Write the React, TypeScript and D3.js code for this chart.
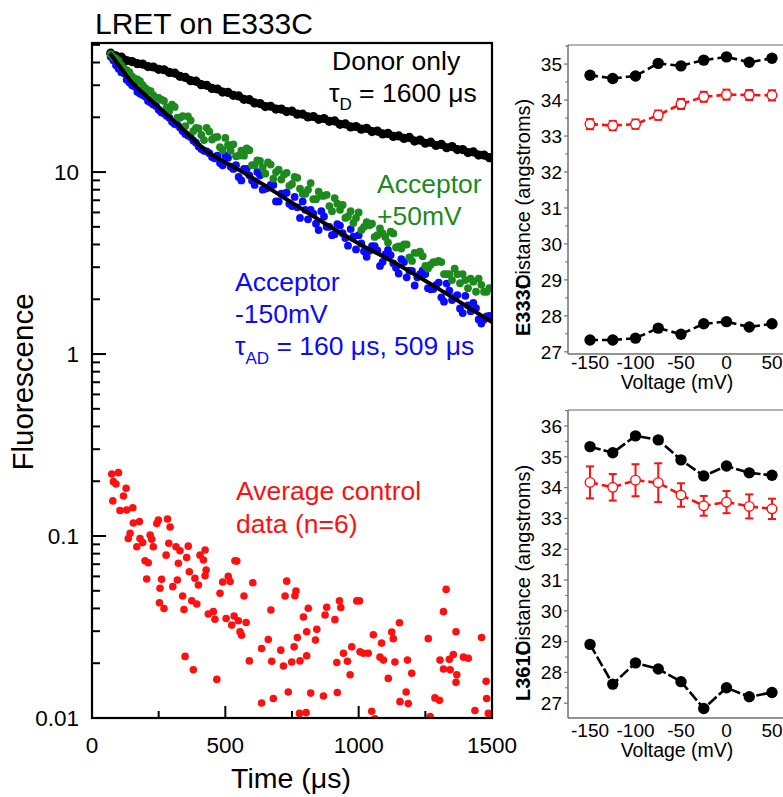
import React from 'react';
import * as d3 from 'd3';

// ---------- Main panel data (time in µs, fluorescence) ----------
const sampleTimes = d3.range(70, 1500, 20); // acquisition grid A (72 samples)
const sampleTimesMid = d3.range(80, 1490, 20); // acquisition grid B (71 samples)

const donorOnly = [
  45.0, 43.5, 42.9, 41.0, 40.5, 39.4, 39.2, 38.0, 37.8, 36.7,
  36.5, 35.3, 35.0, 33.6, 33.1, 31.8, 31.6, 30.2, 30.0, 28.8,
  28.6, 27.5, 27.4, 26.4, 26.2, 25.1, 25.0, 24.0, 23.8, 22.9,
  23.0, 22.2, 22.2, 21.5, 21.6, 20.8, 20.8, 20.1, 20.2, 19.5,
  19.7, 19.0, 19.1, 18.3, 18.4, 17.7, 17.8, 17.2, 17.4, 16.7,
  16.8, 16.2, 16.3, 15.7, 15.8, 15.3, 15.5, 14.8, 15.0, 14.4,
  14.6, 14.0, 14.2, 13.6, 13.8, 13.3, 13.3, 12.8, 12.9, 12.4,
  12.4, 12.0,
];

const acceptorMinus150 = [
  43.0, 38.6, 35.4, 32.2, 30.0, 27.6, 26.5, 24.6, 23.5, 22.0,
  21.0, 19.9, 18.4, 17.6, 16.2, 15.6, 14.5, 13.4, 13.0, 12.1,
  12.3, 10.9, 12.0, 10.4, 9.4, 10.4, 9.6, 8.5, 9.6, 8.1,
  8.5, 6.9, 7.6, 7.7, 6.5, 6.4, 6.9, 5.5, 5.9, 4.8,
  5.7, 5.0, 4.56, 5.08, 4.34, 4.86, 3.76, 4.05, 3.42, 3.92,
  3.71, 3.21, 3.73, 3.15, 2.77, 3.2, 2.87, 2.38, 2.75, 2.75,
  2.27, 2.39, 2.05, 2.44, 1.98, 2.11, 1.68, 1.85, 1.91, 1.55,
  1.55, 1.62,
];
const acceptorMinus150Mid = [
  41.2, 37.0, 34.9, 31.2, 29.5, 27.0, 26.0, 24.1, 23.1, 21.3,
  20.4, 18.9, 18.2, 16.8, 15.9, 14.9, 13.8, 13.1, 12.7, 11.9,
  11.2, 12.3, 10.7, 10.9, 9.0, 10.4, 9.0, 10.0, 8.0, 8.2,
  8.5, 6.9, 7.6, 6.7, 7.3, 5.6, 6.2, 6.2, 5.2, 6.1,
  5.0, 4.5, 5.18, 4.61, 3.94, 4.41, 4.5, 3.67, 3.69, 3.92,
  3.05, 3.53, 3.5, 2.98, 3.32, 2.64, 2.86, 2.64, 2.88, 2.3,
  2.28, 2.47, 1.94, 2.23, 2.05, 1.78, 2.09, 1.72, 1.79, 1.47,
  1.61,
];

const acceptorPlus50 = [
  44.5, 42.0, 38.6, 36.3, 33.6, 32.3, 30.0, 28.2, 26.4, 25.6,
  24.6, 21.7, 22.8, 19.9, 17.9, 19.2, 17.5, 16.0, 17.5, 15.1,
  15.6, 13.2, 14.1, 14.2, 12.3, 12.3, 13.2, 10.9, 11.5, 9.8,
  11.0, 10.0, 9.1, 9.9, 8.6, 9.3, 7.6, 8.0, 7.1, 7.8,
  7.4, 6.5, 7.2, 6.2, 5.6, 6.1, 5.6, 4.8, 5.3, 5.2,
  4.5, 4.6, 4.1, 4.6, 3.9, 4.0, 3.4, 3.6, 3.65, 3.05,
  3.1, 3.2, 3.2, 2.75, 2.55, 2.75, 2.75, 2.3, 2.5, 2.6,
  2.2, 2.3,
];
const acceptorPlus50Mid = [
  43.0, 40.8, 37.0, 35.4, 32.6, 31.6, 28.9, 27.8, 25.5, 25.0,
  22.7, 23.5, 19.9, 20.3, 20.2, 16.8, 17.4, 15.0, 16.7, 15.5,
  13.7, 15.4, 13.1, 12.2, 13.1, 13.5, 10.9, 11.6, 10.6, 11.3,
  9.2, 10.3, 9.7, 8.4, 9.4, 8.1, 7.6, 8.7, 7.1, 7.4,
  7.5, 6.1, 6.7, 6.6, 5.7, 5.25, 6.0, 5.0, 5.1, 4.4,
  4.9, 4.4, 4.7, 3.85, 3.8, 4.0, 3.25, 3.6, 3.45, 2.95,
  3.2, 3.25, 2.75, 2.75, 2.95, 2.45, 2.55, 2.6, 2.2, 2.4,
  2.2,
];

const fitTimes = [67, 100, 150, 200, 250, 304, 350, 424, 500, 550, 650, 716, 800, 866, 1000, 1118, 1200, 1300, 1400, 1500];
const fitValues = [45, 38.8, 31.0, 26.5, 22.7, 19.3, 16.7, 13.2, 11.3, 10.3, 8.4, 7.3, 6.1, 5.3, 4.05, 3.28, 2.8, 2.28, 1.85, 1.5];

const controlTimes = [
  74, 99, 80, 90, 118, 128, 78, 105, 130, 153, 155, 178, 143, 136, 180, 168, 190, 218, 224, 230,
  243, 249, 283, 293, 288, 315, 330, 361, 278, 355, 324, 199, 211, 205, 261, 255, 320, 303, 365, 386,
  399, 405, 424, 418, 428, 424, 253, 270, 340, 345, 374, 393, 436, 455, 461, 480, 490, 511, 518, 503,
  524, 533, 549, 578, 555, 561, 536, 543, 570, 603, 349, 380, 468, 590, 636, 661, 674, 671, 708, 718,
  730, 724, 761, 765, 793, 811, 805, 843, 838, 758, 770, 780, 805, 749, 880, 874, 911, 928, 933, 918,
  958, 974, 943, 968, 993, 1003, 1005, 1018, 1036, 1055, 1086, 1080, 1093, 1111, 1124, 1130, 1136, 1183, 1199, 1153,
  1178, 1155, 1186, 1261, 1305, 1318, 1340, 1355, 1343, 1368, 1365, 1328, 1318, 1365, 1393, 1411, 1461, 1478, 1480, 1486,
  1436, 1286, 1303, 1268, 1049, 1061, 736, 680, 636, 820, 868, 920, 778, 803,
];
const controlValues = [
  0.219, 0.223, 0.199, 0.193, 0.166, 0.183, 0.156, 0.138, 0.139, 0.143, 0.118, 0.120, 0.1035, 0.097, 0.097, 0.0873, 0.092, 0.1013, 0.0959, 0.0873,
  0.117, 0.1224, 0.124, 0.112, 0.0913, 0.0873, 0.083, 0.088, 0.0785, 0.0761, 0.0708, 0.0731, 0.0713, 0.0581, 0.0578, 0.0516, 0.0573, 0.0527, 0.0636, 0.0586,
  0.0538, 0.0785, 0.0838, 0.0738, 0.065, 0.0605, 0.043, 0.040, 0.0468, 0.0395, 0.0441, 0.0423, 0.0373, 0.0384, 0.0349, 0.0484, 0.0559, 0.060, 0.0562, 0.0352,
  0.0324, 0.0363, 0.0342, 0.0335, 0.0298, 0.0285, 0.0731, 0.0728, 0.0468, 0.0554, 0.0218, 0.0184, 0.0163, 0.0206, 0.0241, 0.027, 0.0205, 0.0392, 0.0236, 0.0193,
  0.0565, 0.0468, 0.047, 0.0499, 0.0359, 0.0401, 0.0298, 0.0307, 0.0268, 0.0246, 0.0277, 0.0206, 0.022, 0.0203, 0.0406, 0.0368, 0.0347, 0.0441, 0.0405, 0.0202,
  0.0205, 0.0246, 0.0227, 0.0173, 0.044, 0.044, 0.0231, 0.0227, 0.0227, 0.0287, 0.0258, 0.0216, 0.0208, 0.0165, 0.0297, 0.0273, 0.0203, 0.0208, 0.0176, 0.0334,
  0.0139, 0.0123, 0.0120, 0.0273, 0.0208, 0.0186, 0.021, 0.0223, 0.0184, 0.0173, 0.0157, 0.0509, 0.0384, 0.0298, 0.0216, 0.0213, 0.0277, 0.0159, 0.0128, 0.0106,
  0.0110, 0.0129, 0.0125, 0.0102, 0.0109, 0.0099, 0.0139, 0.0128, 0.0121, 0.0137, 0.0132, 0.0138, 0.0106, 0.0107,
];

const mainXTicks = [0, 500, 1000, 1500];
const mainXMinorTicks = [250, 750, 1250];
const mainYTicks = [0.01, 0.1, 1, 10];
const mainYTickLabels = ['0.01', '0.1', '1', '10'];

// ---------- Right panels data (voltage in mV, distance in Å) ----------
const voltages = [-150, -125, -100, -75, -50, -25, 0, 25, 50];
const voltageTicks = [-150, -100, -50, 0, 50];

const e333Upper = [34.69, 34.60, 34.67, 35.02, 34.95, 35.11, 35.20, 35.05, 35.16];
const e333Mean = [33.33, 33.29, 33.33, 33.58, 33.89, 34.09, 34.15, 34.14, 34.13];
const e333MeanErr = [0.14, 0.13, 0.13, 0.13, 0.14, 0.14, 0.14, 0.14, 0.14];
const e333Lower = [27.33, 27.33, 27.38, 27.66, 27.49, 27.78, 27.84, 27.69, 27.78];
const e333YTicks = [27, 28, 29, 30, 31, 32, 33, 34, 35];

const l361Upper = [35.33, 35.13, 35.68, 35.55, 34.90, 34.38, 34.70, 34.48, 34.40];
const l361Mean = [34.17, 34.01, 34.24, 34.16, 33.76, 33.41, 33.53, 33.39, 33.31];
const l361MeanErr = [0.52, 0.43, 0.52, 0.63, 0.38, 0.32, 0.36, 0.39, 0.33];
const l361Lower = [28.91, 27.62, 28.31, 28.11, 27.70, 26.83, 27.50, 27.21, 27.35];
const l361YTicks = [27, 28, 29, 30, 31, 32, 33, 34, 35, 36];

const FONT = '"Liberation Sans", Arial, Helvetica, sans-serif';
const GREEN = '#1c8a1c';
const BLUE = '#0a0aff';
const RED = '#ff1010';

function RightPanel(props: {
  yDomain: [number, number];
  yRange: [number, number];
  yTicks: number[];
  upper: number[];
  mean: number[];
  meanErr: number[];
  lower: number[];
  labelBold: string;
  labelStart: number;
  xLabelY: number;
  solidBlack: boolean;
}) {
  const { yDomain, yRange, yTicks, upper, mean, meanErr, lower } = props;
  const x = d3.scaleLinear().domain([-174.2, 80.8]).range([568, 800]);
  const y = d3.scaleLinear().domain(yDomain).range(yRange);
  const line = (vals: number[]) =>
    d3.line<number>().x((_, i) => x(voltages[i])).y((v) => y(v))(vals) || '';
  const top = yRange[1];
  const bottom = yRange[0];
  const minor: number[] = [];
  for (let v = Math.ceil(yDomain[0] * 2) / 2; v <= yDomain[1]; v += 0.5) {
    if (Math.abs(v - Math.round(v)) > 0.1) minor.push(v);
  }
  const axisColor = '#707070';
  const blackDash = props.solidBlack ? '11,3' : '8,4';
  return (
    <g>
      <line x1={568} x2={800} y1={top} y2={top} stroke="#9a9a9a" strokeWidth={1.5} />
      <line x1={568} x2={568} y1={top} y2={bottom} stroke={axisColor} strokeWidth={1.5} />
      <line x1={568} x2={800} y1={bottom} y2={bottom} stroke={axisColor} strokeWidth={1.5} />
      {yTicks.map((t) => (
        <g key={'t' + t}>
          <line x1={564} x2={568} y1={y(t)} y2={y(t)} stroke={axisColor} strokeWidth={1.2} />
          <text x={562} y={y(t)} dy="0.36em" textAnchor="end" fontSize={19} fontFamily={FONT}>
            {t}
          </text>
        </g>
      ))}
      {minor.map((t) => (
        <line key={'m' + t} x1={565} x2={568} y1={y(t)} y2={y(t)} stroke={axisColor} strokeWidth={1} />
      ))}
      {voltageTicks.map((v) => (
        <text key={'x' + v} x={x(v)} y={props.xLabelY} textAnchor="middle" fontSize={19} fontFamily={FONT}>
          {v}
        </text>
      ))}
      <text x={677} y={props.xLabelY + 20} textAnchor="middle" fontSize={19.5} fontFamily={FONT}>
        Voltage (mV)
      </text>
      <text
        transform={`translate(530,${props.labelStart}) rotate(-90)`}
        fontSize={20}
        fontFamily={FONT}
      >
        <tspan fontWeight="bold">{props.labelBold}</tspan>
        <tspan dx={-14}>Distance (angstroms)</tspan>
      </text>
      {/* lines */}
      <path d={line(upper)} fill="none" stroke="#000" strokeWidth={2.6} strokeDasharray={blackDash} />
      <path d={line(lower)} fill="none" stroke="#000" strokeWidth={2.6} strokeDasharray={blackDash} />
      <path d={line(mean)} fill="none" stroke={RED} strokeWidth={2.6} strokeDasharray="8,4" />
      {/* error bars */}
      {mean.map((m, i) => {
        const cx = x(voltages[i]);
        const y1 = y(m + meanErr[i]);
        const y2 = y(m - meanErr[i]);
        return (
          <g key={'e' + i} stroke={RED} strokeWidth={2}>
            <line x1={cx} x2={cx} y1={y1} y2={y2} />
            <line x1={cx - 4} x2={cx + 4} y1={y1} y2={y1} />
            <line x1={cx - 4} x2={cx + 4} y1={y2} y2={y2} />
          </g>
        );
      })}
      {mean.map((m, i) => (
        <circle key={'r' + i} cx={x(voltages[i])} cy={y(m)} r={4.8} fill="#fff" stroke={RED} strokeWidth={1.4} />
      ))}
      {upper.map((m, i) => (
        <circle key={'u' + i} cx={x(voltages[i])} cy={y(m)} r={5.7} fill="#000" />
      ))}
      {lower.map((m, i) => (
        <circle key={'l' + i} cx={x(voltages[i])} cy={y(m)} r={5.7} fill="#000" />
      ))}
    </g>
  );
}

export default function App() {
  const W = 783;
  const H = 797;
  const x = d3.scaleLinear().domain([0, 1500]).range([92, 492]);
  const y = d3.scaleLog().domain([0.01, 51.2]).range([718, 43]);

  const minorY: number[] = [];
  [0.01, 0.1, 1, 10].forEach((d) => {
    for (let k = 2; k <= 9; k++) {
      const v = d * k;
      if (v < 51.2) minorY.push(v);
    }
  });

  const fitPath =
    d3
      .line<number>()
      .x((_, i) => x(fitTimes[i]))
      .y((v) => y(v))
      .curve(d3.curveMonotoneX)(fitValues) || '';

  const donorPath =
    d3
      .line<number>()
      .x((_, i) => x(sampleTimes[i]))
      .y((v) => y(v))(donorOnly) || '';

  const dots = (vals: number[], times: number[], color: string, r: number, key: string) =>
    vals.map((v, i) => <circle key={key + i} cx={x(times[i])} cy={y(v)} r={r} fill={color} />);

  return (
    <svg
      width={W}
      height={H}
      viewBox={`0 0 ${W} ${H}`}
      style={{ position: 'absolute', left: 0, top: 0, background: '#fff' }}
    >
      <rect x={0} y={0} width={W} height={H} fill="#fff" />
      <defs>
        <clipPath id="mainClip">
          <rect x={92} y={43} width={400} height={675} />
        </clipPath>
      </defs>

      {/* title */}
      <text x={95} y={34} fontSize={30} fontFamily={FONT}>
        LRET on E333C
      </text>

      {/* data */}
      <g clipPath="url(#mainClip)">
        {controlValues.map((v, i) => (
          <circle key={'c' + i} cx={x(controlTimes[i])} cy={y(v)} r={3.8} fill={RED} />
        ))}
        <path d={donorPath} fill="none" stroke="#000" strokeWidth={7} strokeLinejoin="round" />
        {dots(donorOnly, sampleTimes, '#000', 4.6, 'd')}
        {dots(acceptorMinus150, sampleTimes, BLUE, 3.9, 'b')}
        {dots(acceptorMinus150Mid, sampleTimesMid, BLUE, 3.9, 'bm')}
        {dots(acceptorPlus50, sampleTimes, GREEN, 3.9, 'g')}
        {dots(acceptorPlus50Mid, sampleTimesMid, GREEN, 3.9, 'gm')}
        <path d={fitPath} fill="none" stroke="#000" strokeWidth={4} />
      </g>

      {/* frame */}
      <rect x={92} y={43} width={400} height={675} fill="none" stroke="#000" strokeWidth={2.2} />

      {/* y ticks */}
      {mainYTicks.map((t, i) => (
        <g key={'yt' + t}>
          <line x1={92} x2={106} y1={y(t)} y2={y(t)} stroke="#000" strokeWidth={2} />
          <text x={79} y={y(t)} dy="0.36em" textAnchor="end" fontSize={22.5} fontFamily={FONT}>
            {mainYTickLabels[i]}
          </text>
        </g>
      ))}
      {minorY.map((t) => (
        <line key={'ym' + t} x1={92} x2={100} y1={y(t)} y2={y(t)} stroke="#000" strokeWidth={2} />
      ))}
      {/* x ticks */}
      {mainXTicks.map((t) => (
        <g key={'xt' + t}>
          <line x1={x(t)} x2={x(t)} y1={718} y2={706} stroke="#000" strokeWidth={2} />
          <text x={x(t)} y={753} textAnchor="middle" fontSize={22.5} fontFamily={FONT}>
            {t}
          </text>
        </g>
      ))}
      {mainXMinorTicks.map((t) => (
        <line key={'xm' + t} x1={x(t)} x2={x(t)} y1={718} y2={711} stroke="#000" strokeWidth={2} />
      ))}

      {/* axis titles */}
      <text transform="translate(33,382) rotate(-90)" textAnchor="middle" fontSize={29.5} fontFamily={FONT}>
        Fluorescence
      </text>
      <text x={291} y={788} textAnchor="middle" fontSize={28.5} fontFamily={FONT}>
        Time (μs)
      </text>

      {/* annotations */}
      <g fontFamily={FONT} fontSize={26.5}>
        <text x={332} y={70}>Donor only</text>
        <text x={329} y={102}>
          τ<tspan fontSize={17} dy={8}>D</tspan>
          <tspan dy={-8}> = 1600 μs</tspan>
        </text>
        <text x={377} y={193} fill={GREEN}>Acceptor</text>
        <text x={377} y={225} fill={GREEN}>+50mV</text>
        <text x={235} y={291} fill={BLUE}>Acceptor</text>
        <text x={235} y={323} fill={BLUE}>-150mV</text>
        <text x={235} y={355} fill={BLUE}>
          τ<tspan fontSize={17} dy={9}>AD</tspan>
          <tspan dy={-9}> = 160 μs, 509 μs</tspan>
        </text>
        <text x={236} y={500} fill={RED}>Average control</text>
        <text x={236} y={533} fill={RED}>data (n=6)</text>
      </g>

      {/* right panels */}
      <RightPanel
        yDomain={[26.94, 35.53]}
        yRange={[354, 45]}
        yTicks={e333YTicks}
        upper={e333Upper}
        mean={e333Mean}
        meanErr={e333MeanErr}
        lower={e333Lower}
        labelBold="E333C"
        labelStart={336}
        xLabelY={369}
        solidBlack={false}
      />
      <RightPanel
        yDomain={[26.52, 36.52]}
        yRange={[718, 410]}
        yTicks={l361YTicks}
        upper={l361Upper}
        mean={l361Mean}
        meanErr={l361MeanErr}
        lower={l361Lower}
        labelBold="L361C"
        labelStart={701}
        xLabelY={737}
        solidBlack={true}
      />
    </svg>
  );
}
